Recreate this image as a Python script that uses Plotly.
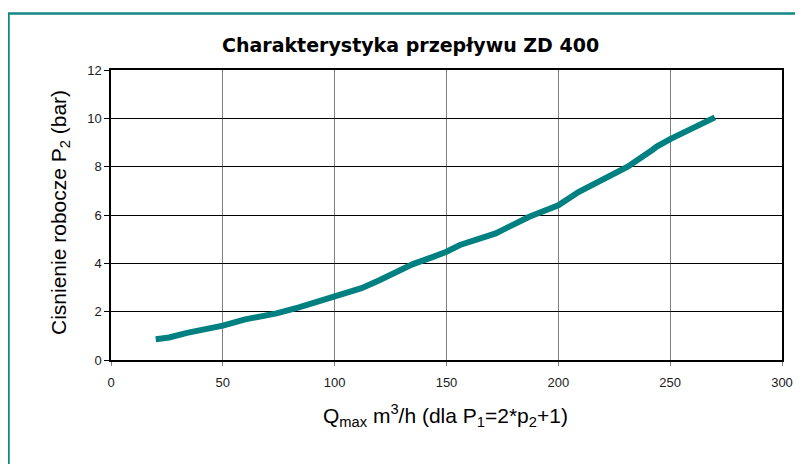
import plotly.graph_objects as go

# Data
q_max = [20, 26, 34, 43, 50, 60, 74, 84, 100, 112, 120, 128, 135, 144, 150, 156,
         163, 172, 187, 200, 209, 220, 231, 242, 244, 250, 260, 270]
p2 = [0.86, 0.93, 1.12, 1.27, 1.42, 1.68, 1.93, 2.18, 2.60, 2.97, 3.30, 3.65, 3.97,
      4.27, 4.48, 4.76, 4.98, 5.24, 5.93, 6.40, 6.95, 7.48, 8.00, 8.69, 8.83, 9.14,
      9.60, 10.04]
x_ticks = [0, 50, 100, 150, 200, 250, 300]
y_ticks = [0, 2, 4, 6, 8, 10, 12]

TEAL = "#008080"
FONT = "Liberation Sans, Arial, sans-serif"

fig = go.Figure()
fig.add_trace(go.Scatter(
    x=q_max, y=p2, mode="lines",
    line=dict(color=TEAL, width=6),
    showlegend=False, hoverinfo="x+y",
))

# page body has an 8px margin, so the figure sits at (8, 8) in the window
OFF = 8
W, H = 795, 456
L, T = 111 - OFF, 70 - OFF
R = W - (782 - OFF)
B = H - (360 - OFF)
pw, ph = W - L - R, H - T - B

def px_x(px):
    return (px - OFF - L) / pw

def px_y(py):
    return (H - B - (py - OFF)) / ph

fig.update_layout(
    width=W, height=H,
    margin=dict(l=L, r=R, t=T, b=B, autoexpand=False),
    paper_bgcolor="white", plot_bgcolor="white",
    font=dict(family=FONT, color="#222222", size=13),
    xaxis=dict(
        range=[0, 300], tickvals=x_ticks, ticktext=[str(v) for v in x_ticks],
        showgrid=True, gridcolor="#808080", gridwidth=1,
        showline=True, linecolor="black", linewidth=1.5, mirror=True,
        ticks="outside", ticklen=4, tickcolor="#808080",
        ticklabelstandoff=6,
        zeroline=False, tickfont=dict(size=13, family=FONT, color="#1a1a1a"),
        fixedrange=True,
    ),
    yaxis=dict(
        range=[0, 12], tickvals=y_ticks, ticktext=[str(v) for v in y_ticks],
        showgrid=True, gridcolor="black", gridwidth=1,
        showline=True, linecolor="black", linewidth=1.5, mirror=True,
        ticks="outside", ticklen=5, tickcolor="black",
        zeroline=False, tickfont=dict(size=13, family=FONT, color="#1a1a1a"),
        fixedrange=True,
    ),
    shapes=[dict(
        type="rect", xref="paper", yref="paper",
        x0=px_x(8.5), x1=px_x(840), y0=px_y(520), y1=px_y(13.5),
        line=dict(color="#128885", width=2.5), layer="below",
    )],
    annotations=[
        dict(text="<b>Charakterystyka przepływu ZD 400</b>", xref="paper", yref="paper",
             x=px_x(410), y=px_y(45), showarrow=False,
             font=dict(size=19, family="DejaVu Sans, Liberation Sans, sans-serif", color="black"),
             xanchor="center", yanchor="middle"),
        dict(text="Cisnienie robocze P<sub>2</sub> (bar)", xref="paper", yref="paper",
             x=px_x(60), y=px_y(213), showarrow=False, textangle=-90,
             font=dict(size=21, family=FONT, color="black"),
             xanchor="center", yanchor="middle"),
        dict(text="Q<sub>max</sub> m<sup>3</sup>/h (dla P<sub>1</sub>=2*p<sub>2</sub>+1)",
             xref="paper", yref="paper",
             x=px_x(445), y=px_y(415), showarrow=False,
             font=dict(size=21, family=FONT, color="black"),
             xanchor="center", yanchor="middle"),
    ],
)

fig.write_html("out.html")
